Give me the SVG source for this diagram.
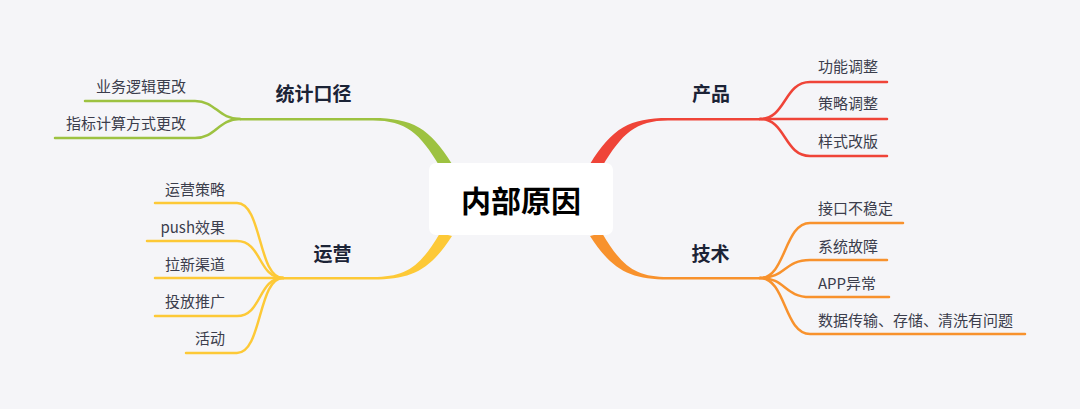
<svg xmlns="http://www.w3.org/2000/svg" width="1080" height="409" viewBox="0 0 1080 409">
<style>
.bg{fill:#f5f5f8}
.sub{fill:none;stroke-width:2.5;stroke-linecap:round}
.g{stroke:#9dc241}.r{stroke:#ef4438}.y{stroke:#fdc937}.o{stroke:#f8922d}
.gf{fill:#9dc241}.rf{fill:#ef4438}.yf{fill:#fdc937}.of{fill:#f8922d}
.t{font-family:"Noto Sans CJK SC","Noto Sans",sans-serif;font-size:15px;fill:#3b3d4c}
.b{font-family:"Noto Sans CJK SC","Noto Sans",sans-serif;font-size:19px;font-weight:bold;fill:#1b2336;text-anchor:middle}
.c{font-family:"Noto Sans CJK SC","Noto Sans",sans-serif;font-size:30px;font-weight:bold;fill:#000;text-anchor:middle}
</style>
<rect class="bg" width="1080" height="409"/>
<g id="connectors">
  <!-- green main -->
  <path class="gf" d="M240,118 H373 C412,118 430,128 452,164 L440,167 C420,133 406,120.5 373,120.5 H240 Z"/>
  <path class="sub g" d="M85,101 H195 C216,101 218,119 240,119"/>
  <path class="sub g" d="M55,138 H195 C216,138 218,119 240,119"/>
  <!-- red main -->
  <path class="rf" d="M760,118 H668 C630,118 612,128 590,164 L602,167 C622,133 636,120.5 668,120.5 H760 Z"/>
  <path class="sub r" d="M760,119 C786,119 784,82 810,82 H887"/>
  <path class="sub r" d="M760,119 H887"/>
  <path class="sub r" d="M760,119 C786,119 784,156 810,156 H887"/>
  <!-- yellow main -->
  <path class="yf" d="M283,277 H373 C406,277 420,267 440,233 L452,236 C430,270 412,279.5 373,279.5 H283 Z"/>
  <path class="sub y" d="M155,203 H237 C262,203 258,278 283,278"/>
  <path class="sub y" d="M147,241 H237 C262,241 258,278 283,278"/>
  <path class="sub y" d="M155,278 H283"/>
  <path class="sub y" d="M155,316 H237 C262,316 258,278 283,278"/>
  <path class="sub y" d="M186,353 H237 C262,353 258,278 283,278"/>
  <!-- orange main -->
  <path class="of" d="M760,277 H668 C636,277 622,267 602,233 L590,236 C612,270 630,279.5 668,279.5 H760 Z"/>
  <path class="sub o" d="M760,278 C786,278 784,223 810,223 H903"/>
  <path class="sub o" d="M760,278 C786,278 784,260 810,260 H887"/>
  <path class="sub o" d="M760,278 C786,278 784,297 810,297 H889"/>
  <path class="sub o" d="M760,278 C786,278 784,334 810,334 H1025"/>
</g>
<g id="center">
  <rect x="429" y="163" width="184" height="72" rx="7" fill="#fff"/>
  <text class="c" x="521" y="212">内部原因</text>
</g>
<g id="tongji">
  <text class="b" x="313.5" y="101">统计口径</text>
</g>
<g id="yewu"><text class="t" x="186" y="92" text-anchor="end">业务逻辑更改</text></g>
<g id="zhibiao"><text class="t" x="186" y="129" text-anchor="end">指标计算方式更改</text></g>
<g id="chanpin"><text class="b" x="711" y="101">产品</text></g>
<g id="gongneng"><text class="t" x="818" y="72">功能调整</text></g>
<g id="celue"><text class="t" x="818" y="109">策略调整</text></g>
<g id="yangshi"><text class="t" x="818" y="147">样式改版</text></g>
<g id="yunying"><text class="b" x="332.5" y="261">运营</text></g>
<g id="yycl"><text class="t" x="225" y="195" text-anchor="end">运营策略</text></g>
<g id="push"><text class="t" x="225" y="233" text-anchor="end">push效果</text></g>
<g id="laxin"><text class="t" x="225" y="270" text-anchor="end">拉新渠道</text></g>
<g id="toufang"><text class="t" x="225" y="307" text-anchor="end">投放推广</text></g>
<g id="huodong"><text class="t" x="225" y="344" text-anchor="end">活动</text></g>
<g id="jishu"><text class="b" x="710.5" y="261">技术</text></g>
<g id="jiekou"><text class="t" x="818" y="214">接口不稳定</text></g>
<g id="xitong"><text class="t" x="818" y="252">系统故障</text></g>
<g id="app"><text class="t" x="818" y="289">APP异常</text></g>
<g id="shuju"><text class="t" x="818" y="326">数据传输、存储、清洗有问题</text></g>
</svg>
